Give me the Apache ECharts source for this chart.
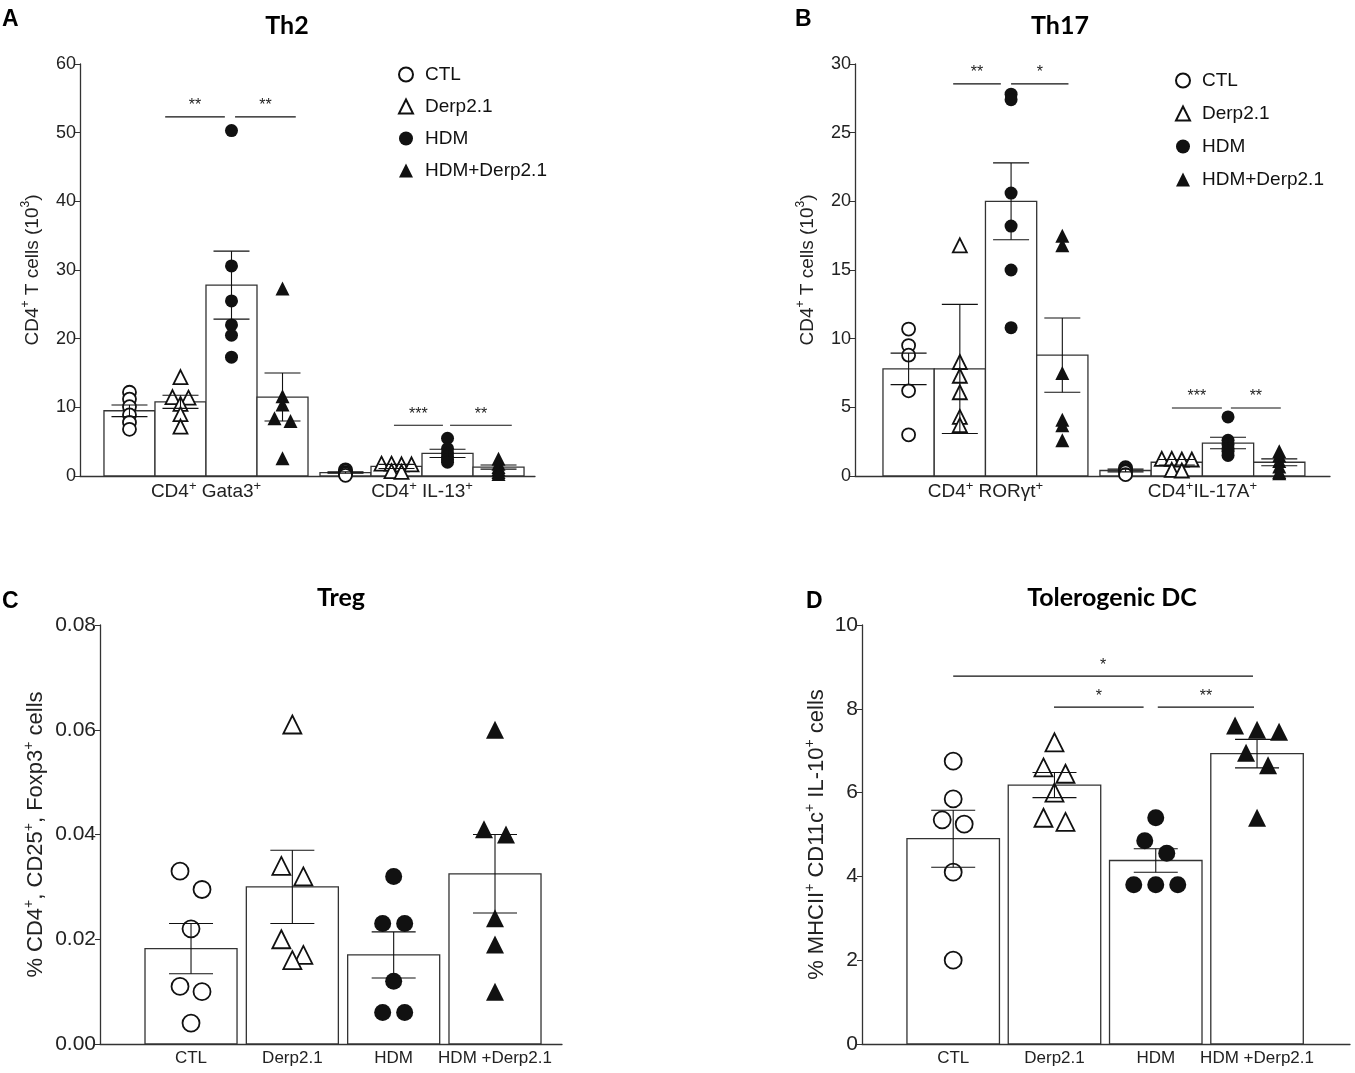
<!DOCTYPE html>
<html>
<head>
<meta charset="utf-8">
<script src="https://cdn.jsdelivr.net/npm/echarts@6/dist/echarts.min.js"></script>
<style>
html, body { margin: 0; background: #fff; }
#main { width: 1355px; height: 1073px; }
</style>
</head>
<body>
<div id="main"></div>
<script>
var groups = ['CTL', 'Derp2.1', 'HDM', 'HDM+Derp2.1'];

// A - Th2
var th2Cats = ['CD4{s|+} Gata3{s|+}', 'CD4{s|+} IL-13{s|+}'];
var th2Mean = [[9.5, 10.8, 27.8, 11.5], [0.5, 1.4, 3.3, 1.3]];
var th2Sem = [[0.85, 0.95, 4.95, 3.5], [0.1, 0.3, 0.6, 0.3]];
var th2Pts = [
    [[12.2, 11.2, 10.1, 8.9, 7.8, 6.8], [14.4, 11.5, 11.4, 10.5, 9.0, 7.2],
     [50.3, 30.6, 25.5, 22.0, 20.5, 17.3], [27.3, 11.6, 10.4, 8.4, 8.0, 2.6]],
    [[0.9, 0.7, 0.5, 0.3, 0.1], [1.8, 1.8, 1.7, 1.7, 0.7, 0.6],
     [5.5, 4.0, 3.3, 2.8, 2.4, 2.0], [2.5, 1.8, 1.3, 1.0, 0.6, 0.3]]
];
// [category, from group, to group, y, label]
var th2Sig = [[0, 0.70, 1.87, 52.3, '**'], [0, 2.07, 3.26, 52.3, '**'],
              [1, 0.95, 1.91, 7.4, '***'], [1, 2.05, 3.26, 7.4, '**']];

// B - Th17
var th17Cats = ['CD4{s|+} ROR\u03b3t{s|+}', 'CD4{s|+}IL-17A{s|+}'];
var th17Mean = [[7.8, 7.8, 20.0, 8.8], [0.4, 1.0, 2.4, 1.0]];
var th17Sem = [[1.15, 4.7, 2.8, 2.7], [0.1, 0.2, 0.42, 0.25]];
var th17Pts = [
    [[10.7, 9.5, 8.8, 6.2, 3.0], [16.8, 8.3, 7.3, 6.1, 4.3, 3.7],
     [27.8, 27.4, 20.6, 18.2, 15.0, 10.8], [17.5, 16.8, 7.5, 4.1, 3.7, 2.6]],
    [[0.6, 0.5, 0.4, 0.3, 0.1], [1.25, 1.25, 1.2, 1.2, 0.45, 0.4],
     [4.3, 2.6, 2.3, 2.0, 1.8, 1.5], [1.8, 1.5, 1.1, 0.7, 0.3, 0.2]]
];
var th17Sig = [[0, 0.87, 1.80, 28.55, '**'], [0, 2.0, 3.12, 28.55, '*'],
               [1, 0.905, 1.88, 4.95, '***'], [1, 2.056, 3.03, 4.95, '**']];

// C - Treg
var tregMean = [0.0182, 0.030, 0.017, 0.0325];
var tregSem = [0.0048, 0.007, 0.0044, 0.0075];
var tregPts = [[0.033, 0.0295, 0.022, 0.011, 0.010, 0.004],
               [0.061, 0.034, 0.032, 0.020, 0.017, 0.016],
               [0.032, 0.023, 0.023, 0.012, 0.006, 0.006],
               [0.060, 0.041, 0.040, 0.024, 0.019, 0.010]];

// D - Tolerogenic DC
var dcMean = [4.9, 6.18, 4.38, 6.93];
var dcSem = [0.68, 0.3, 0.28, 0.34];
var dcPts = [[6.75, 5.85, 5.35, 5.25, 4.1, 2.0],
             [7.2, 6.6, 6.45, 6.0, 5.4, 5.3],
             [5.4, 4.85, 4.55, 3.8, 3.8, 3.8],
             [7.6, 7.5, 7.45, 6.95, 6.65, 5.4]];
var dcSig = [[0, 0.0, 2.96, 8.78, '*'], [0, 0.995, 1.88, 8.04, '*'], [0, 2.02, 2.97, 8.04, '**']];

var FONT = 'Liberation Sans';
var INK = '#222';
var symbols = ['circle', 'triangle', 'circle', 'triangle'];
var fills = ['#fff', '#fff', '#111', '#111'];

// th / step / maxRow per category: how the column scatter spreads its points
var panels = [
    {grid: {left: 80, top: 64, width: 455, height: 412}, ymax: 60, yint: 10, xmax: 8.92,
     padL: 0.47, catStep: 4.235, grpStep: 1, cats: th2Cats, means: th2Mean, sem: th2Sem,
     pts: th2Pts, sig: th2Sig, sym: 13, cap: 36, th: [6, 1.2], step: [16, 10], maxRow: [3, 4],
     yFont: 18, xFont: 19, yName: '{a|CD4}{s|+}{a| T cells (10}{s|3}{a|)}', nameGap: 35, nameFont: 19, ticks: false},
    {grid: {left: 855, top: 64, width: 475, height: 412}, ymax: 30, yint: 5, xmax: 9.27,
     padL: 0.546, catStep: 4.234, grpStep: 1, cats: th17Cats, means: th17Mean, sem: th17Sem,
     pts: th17Pts, sig: th17Sig, sym: 13, cap: 36, th: [5, 1.2], step: [16, 10], maxRow: [3, 4],
     yFont: 18, xFont: 19, yName: '{a|CD4}{s|+}{a| T cells (10}{s|3}{a|)}', nameGap: 35, nameFont: 19, ticks: false},
    {grid: {left: 100, top: 625, width: 462, height: 419}, ymax: 0.08, yint: 0.02, xmax: 5.02,
     padL: 0.489, catStep: 0, grpStep: 1.101, cats: null, means: [tregMean], sem: [tregSem],
     pts: [tregPts], sig: [], sym: 17, cap: 44, th: [20], step: [22], maxRow: [3], yFont: 21, xFont: 17,
     yName: '{a|% CD4}{s|+}{a|, CD25}{s|+}{a|, Foxp3}{s|+}{a| cells}', nameGap: 50, nameFont: 22, ticks: true},
    {grid: {left: 862, top: 625, width: 488, height: 419}, ymax: 10, yint: 2, xmax: 5.276,
     padL: 0.486, catStep: 0, grpStep: 1.095, cats: null, means: [dcMean], sem: [dcSem],
     pts: [dcPts], sig: dcSig, sym: 17, cap: 44, th: [20], step: [22], maxRow: [3], yFont: 21, xFont: 17,
     yName: '{a|% MHCII}{s|+}{a| CD11c}{s|+}{a| IL-10}{s|+}{a| cells}', nameGap: 31, nameFont: 22, ticks: true}
];

// column-scatter spread: points closer than th px share a row and are spread sideways
function swarm(vals, pxPerUnit, th, maxRow) {
    var idx = vals.map(function (v, i) { return i; }).sort(function (a, b) { return vals[b] - vals[a]; });
    var offs = [];
    var row = [];
    function flush() {
        row.forEach(function (k, j) { offs[k] = j - (row.length - 1) / 2; });
        row = [];
    }
    idx.forEach(function (k) {
        if (row.length && ((vals[row[0]] - vals[k]) * pxPerUnit > th || row.length >= maxRow)) flush();
        row.push(k);
    });
    flush();
    return offs;
}

function barX(p, c, g) {
    return p.padL + c * p.catStep + g * p.grpStep + 0.5;
}

function renderBar(params, api) {
    var x = api.value(0), y = api.value(1);
    var a = api.coord([x - 0.5, y]);
    var b = api.coord([x + 0.5, 0]);
    return {type: 'rect', shape: {x: a[0], y: a[1], width: b[0] - a[0], height: b[1] - a[1]},
        style: {fill: '#fff', stroke: '#333', lineWidth: 1.3}};
}

function renderErr(cap) {
    return function (params, api) {
        var x = api.value(0);
        var a = api.coord([x, api.value(2)]);
        var b = api.coord([x, api.value(1)]);
        var st = {stroke: '#111', lineWidth: 1.1};
        return {type: 'group', children: [
            {type: 'line', shape: {x1: a[0], y1: a[1], x2: b[0], y2: b[1]}, style: st},
            {type: 'line', shape: {x1: a[0] - cap / 2, y1: a[1], x2: a[0] + cap / 2, y2: a[1]}, style: st},
            {type: 'line', shape: {x1: b[0] - cap / 2, y1: b[1], x2: b[0] + cap / 2, y2: b[1]}, style: st}
        ]};
    };
}

function renderSig(labels) {
    return function (params, api) {
        var a = api.coord([api.value(0), api.value(2)]);
        var b = api.coord([api.value(1), api.value(2)]);
        return {type: 'group', children: [
            {type: 'line', shape: {x1: a[0], y1: a[1], x2: b[0], y2: a[1]}, style: {stroke: '#111', lineWidth: 1.1}},
            {type: 'text', x: (a[0] + b[0]) / 2, y: a[1] - 3,
             style: {text: labels[params.dataIndex], fontSize: 16, fontFamily: FONT, fill: '#222',
                     align: 'center', verticalAlign: 'bottom'}}
        ]};
    };
}

var grids = [], xAxes = [], yAxes = [], series = [];

panels.forEach(function (p, pi) {
    grids.push(p.grid);
    var nCat = p.means.length;
    var centers = [], labels = [];
    if (p.cats) {
        p.cats.forEach(function (c, ci) {
            centers.push(p.padL + ci * p.catStep + 2);
            labels.push(c);
        });
    } else {
        groups.forEach(function (g, gi) {
            centers.push(barX(p, 0, gi));
            labels.push(g);
        });
    }
    xAxes.push({
        gridIndex: pi, type: 'value', min: 0, max: p.xmax,
        axisLine: {show: true, onZero: false, lineStyle: {color: '#333', width: 1.3}},
        axisTick: {show: p.ticks, inside: true, length: 5, customValues: centers, lineStyle: {color: '#333'}},
        splitLine: {show: false},
        axisLabel: {
            customValues: centers, margin: 4, color: INK, fontFamily: FONT, fontSize: p.xFont,
            lineHeight: p.xFont + 4,
            formatter: function (v) {
                var best = 0;
                centers.forEach(function (c, i) { if (Math.abs(c - v) < Math.abs(centers[best] - v)) best = i; });
                return p.cats ? labels[best] : labels[best].replace('+', ' +');
            },
            rich: {s: {fontSize: Math.round(p.xFont * 0.68), verticalAlign: 'top', fontFamily: FONT, color: INK}}
        }
    });
    yAxes.push({
        gridIndex: pi, type: 'value', min: 0, max: p.ymax, interval: p.yint,
        name: p.yName, nameLocation: 'middle', nameGap: p.nameGap, nameRotate: 90,
        nameTextStyle: {
            rich: {
                a: {fontSize: p.nameFont, fontFamily: FONT, color: INK, lineHeight: p.nameFont + 6},
                s: {fontSize: Math.round(p.nameFont * 0.65), fontFamily: FONT, color: INK, verticalAlign: 'top'}
            }
        },
        axisLine: {show: true, lineStyle: {color: '#333', width: 1.3}},
        axisTick: {show: true, length: 5, lineStyle: {color: '#333'}},
        splitLine: {show: false},
        axisLabel: {
            margin: 4, color: INK, fontFamily: FONT, fontSize: p.yFont,
            formatter: function (v) { return p.ymax < 1 ? v.toFixed(2) : String(Math.round(v)); }
        }
    });

    var barData = [], errData = [];
    var pxY = p.grid.height / p.ymax;
    var pxX = p.grid.width / p.xmax;
    var ptData = [[], [], [], []];
    for (var c = 0; c < nCat; c++) {
        for (var g = 0; g < 4; g++) {
            var x = barX(p, c, g);
            barData.push([x, p.means[c][g]]);
            errData.push([x, p.means[c][g] - p.sem[c][g], p.means[c][g] + p.sem[c][g]]);
            var vals = p.pts[c][g];
            var offs = swarm(vals, pxY, p.th[c], p.maxRow[c]);
            var step = p.step[c];
            vals.forEach(function (v, k) {
                ptData[g].push([x + offs[k] * step / pxX, v]);
            });
        }
    }
    series.push({type: 'custom', xAxisIndex: pi, yAxisIndex: pi, renderItem: renderBar,
        data: barData, z: 1, silent: true, clip: false});
    groups.forEach(function (gname, g) {
        series.push({
            type: 'scatter', name: gname, xAxisIndex: pi, yAxisIndex: pi, data: ptData[g], z: 3,
            symbol: symbols[g], symbolSize: g % 2 ? p.sym + 1 : p.sym,
            itemStyle: {color: fills[g], borderColor: '#111', borderWidth: g < 2 ? 1.8 : 0, opacity: 1},
            emphasis: {disabled: true}
        });
    });
    series.push({type: 'custom', xAxisIndex: pi, yAxisIndex: pi, renderItem: renderErr(p.cap),
        data: errData, z: 4, silent: true, clip: false});
    if (p.sig.length) {
        series.push({
            type: 'custom', xAxisIndex: pi, yAxisIndex: pi, z: 4, silent: true, clip: false,
            renderItem: renderSig(p.sig.map(function (s) { return s[4]; })),
            data: p.sig.map(function (s) { return [barX(p, s[0], s[1]), barX(p, s[0], s[2]), s[3]]; })
        });
    }
});

function legendAt(left, top, gap) {
    return {
        data: groups, orient: 'vertical', left: left, top: top, itemGap: gap,
        itemWidth: 14, itemHeight: 14, selectedMode: false,
        textStyle: {fontSize: 19, fontFamily: FONT, color: '#111', lineHeight: 21, padding: [0, 0, 0, 7]}
    };
}

function titleAt(text, left, top, size, family, center) {
    return {text: text, left: left, top: top, padding: 0, textAlign: center ? 'center' : 'left',
        textStyle: {fontSize: size, fontWeight: 'bold', fontFamily: family, color: '#000'}};
}

var chart = echarts.init(document.getElementById('main'));
chart.setOption({
    animation: false,
    backgroundColor: '#fff',
    title: [
        titleAt('A', 2, 8, 23, FONT, false),
        titleAt('B', 795, 8, 23, FONT, false),
        titleAt('C', 2, 590, 23, FONT, false),
        titleAt('D', 806, 590, 23, FONT, false),
        titleAt('Th2', 287, 13, 25, 'Lato', true),
        titleAt('Th17', 1060, 13, 25, 'Lato', true),
        titleAt('Treg', 341, 585, 25, 'Lato', true),
        titleAt('Tolerogenic DC', 1112, 585, 25, 'Lato', true)
    ],
    legend: [legendAt(393, 59, 11), legendAt(1170, 65, 12)],
    grid: grids,
    xAxis: xAxes,
    yAxis: yAxes,
    series: series
});
</script>
</body>
</html>
